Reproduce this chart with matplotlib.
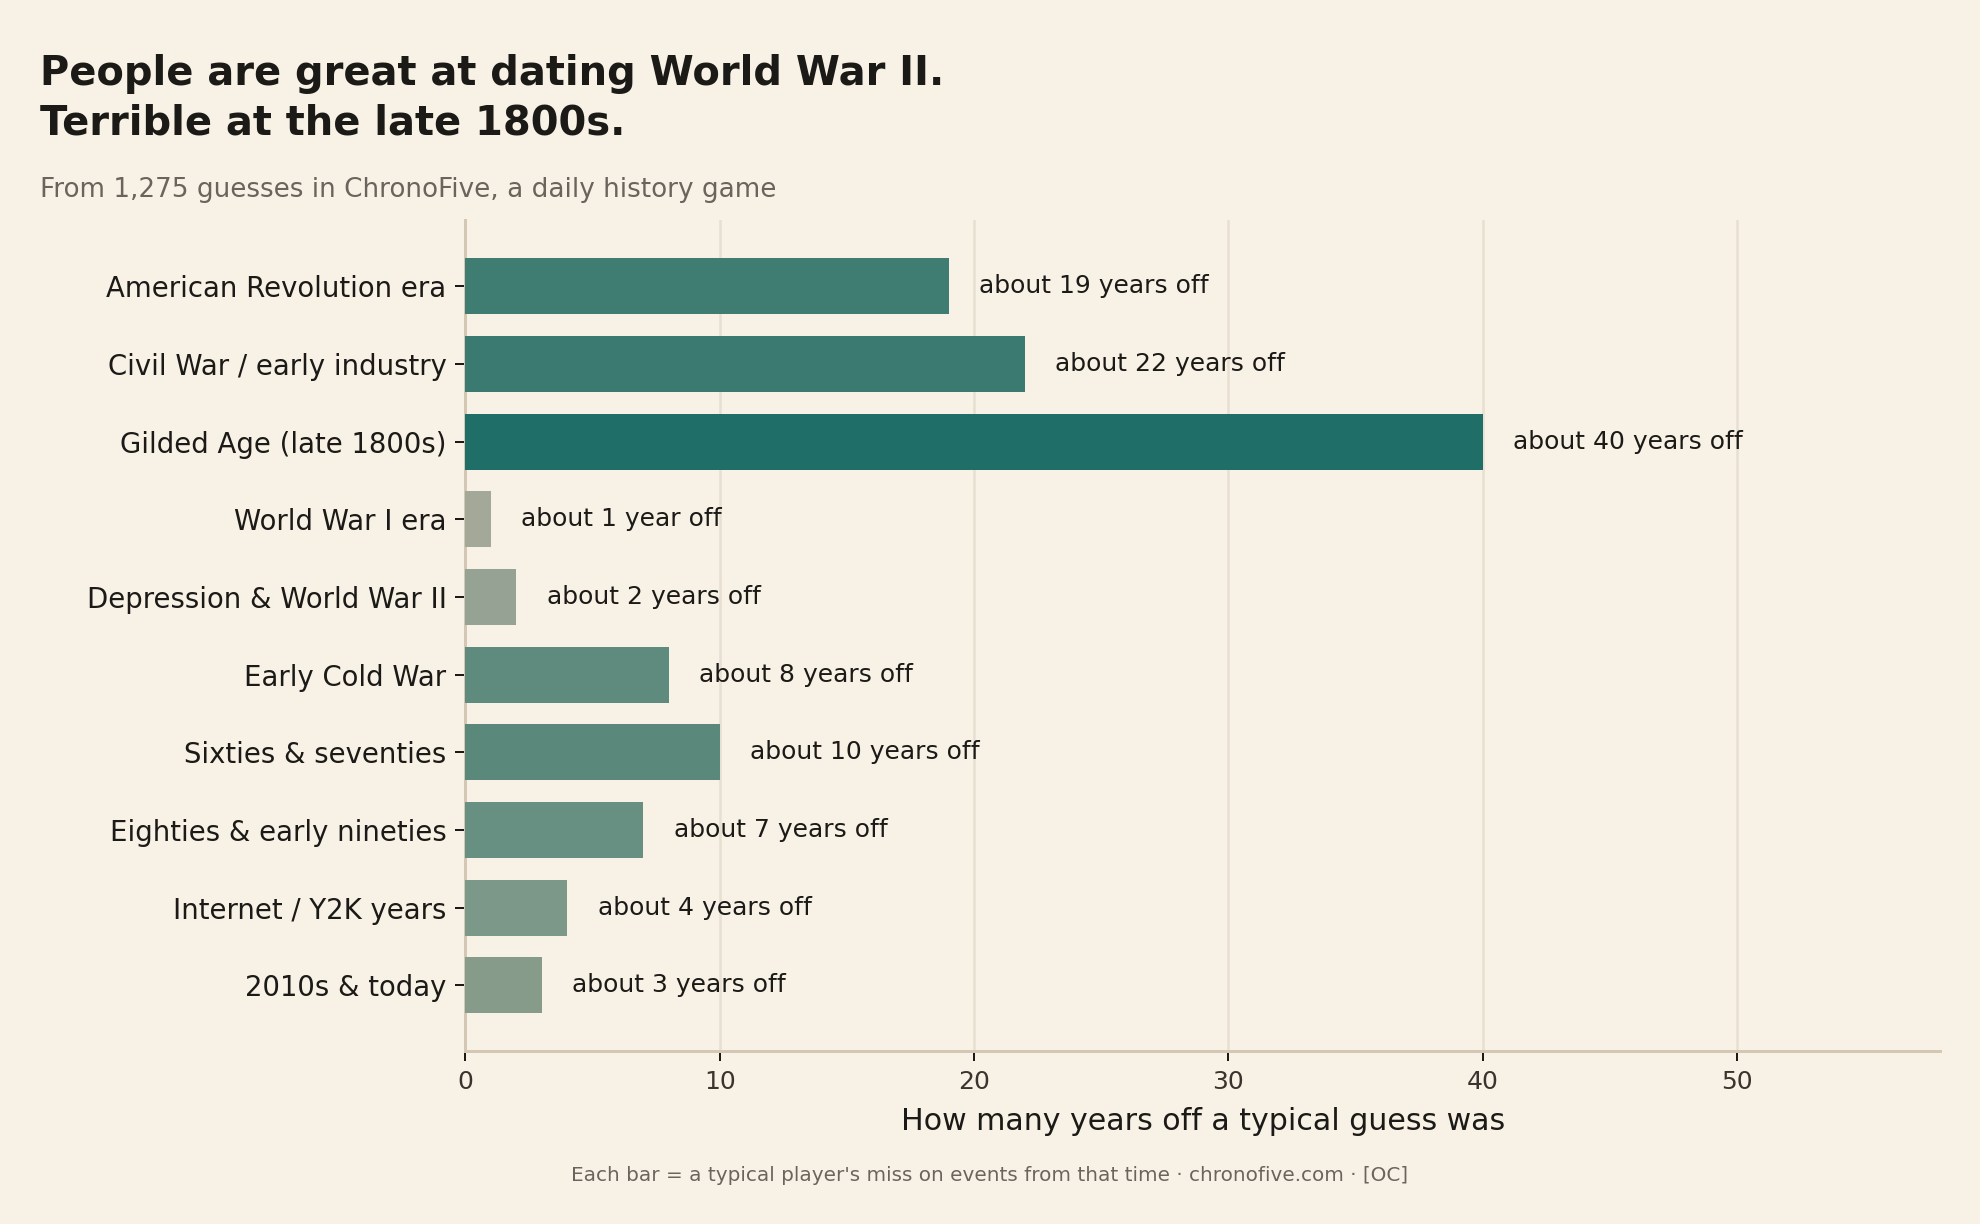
import matplotlib.pyplot as plt

# data
eras = ["American Revolution era", "Civil War / early industry", "Gilded Age (late 1800s)",
        "World War I era", "Depression & World War II", "Early Cold War",
        "Sixties & seventies", "Eighties & early nineties", "Internet / Y2K years",
        "2010s & today"]
years_off = [19, 22, 40, 1, 2, 8, 10, 7, 4, 3]
bar_colors = ["#3f7d73", "#3a7a70", "#1f6e68", "#a3a898", "#95a294", "#5f8a7e",
              "#5a897c", "#678f82", "#7c9888", "#879b8b"]

bg = "#f7f1e6"
ink = "#1c1a17"
grey = "#6b645c"

fig = plt.figure(figsize=(11, 6.8), dpi=180, facecolor=bg)
ax = fig.add_axes([0.235, 0.141, 0.745, 0.679], facecolor=bg)

ypos = list(range(len(eras)))
ax.barh(ypos, years_off, height=0.72, color=bar_colors, zorder=3)

for y, v in zip(ypos, years_off):
    lab = "about 1 year off" if v == 1 else f"about {v} years off"
    ax.text(v + 1.2, y, lab, va="center", ha="left", fontsize=10, color=ink, zorder=4)

ax.set_yticks(ypos)
ax.set_yticklabels(eras, fontsize=11, color=ink)
ax.set_ylim(len(eras) - 1 + 0.85, -0.85)
ax.set_xlim(0, 58)
ax.set_xticks([0, 10, 20, 30, 40, 50])
ax.tick_params(axis="x", labelsize=10, labelcolor="#3a342e", color=ink, length=4)
ax.tick_params(axis="y", color=ink, length=4)
ax.set_xlabel("How many years off a typical guess was", fontsize=12, color=ink, labelpad=5)

ax.grid(axis="x", color="#e6dfd2", linewidth=1, zorder=0)
for s in ["top", "right"]:
    ax.spines[s].set_visible(False)
for s in ["left", "bottom"]:
    ax.spines[s].set_color("#d4c8b4")
    ax.spines[s].set_linewidth(1.2)

fig.text(0.02, 0.956, "People are great at dating World War II.\nTerrible at the late 1800s.",
         fontsize=16, fontweight="bold", color=ink, va="top", ha="left", linespacing=1.3)
fig.text(0.02, 0.845, "From 1,275 guesses in ChronoFive, a daily history game",
         fontsize=10.5, color=grey, va="center", ha="left")
fig.text(0.5, 0.04, "Each bar = a typical player's miss on events from that time \u00b7 chronofive.com \u00b7 [OC]",
         fontsize=8, color=grey, va="center", ha="center")

fig.savefig("out.png", dpi=180, facecolor=bg)
